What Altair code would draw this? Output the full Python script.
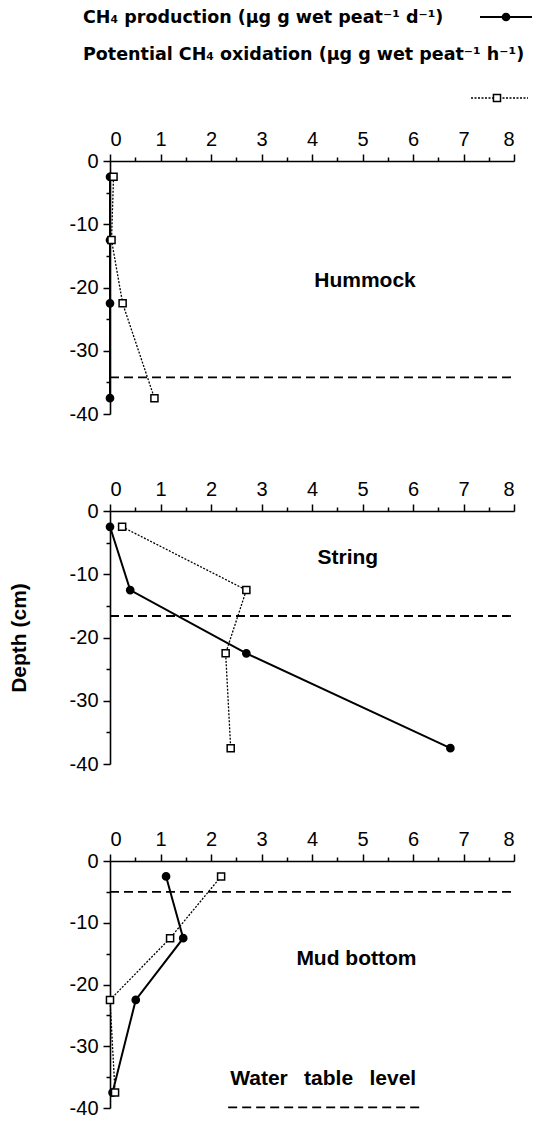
import altair as alt
import pandas as pd

# ---- data ----
sites = ["Hummock", "String", "Mud bottom"]
depths = [-2.5, -12.5, -22.5, -37.5]

hummock_production = [0.0, 0.0, 0.0, 0.0]
hummock_oxidation = [0.07, 0.03, 0.25, 0.88]
string_production = [0.0, 0.40, 2.70, 6.74]
string_oxidation = [0.24, 2.70, 2.29, 2.39]
mud_production = [1.11, 1.45, 0.51, 0.05]
mud_oxidation = [2.20, 1.19, 0.0, 0.10]

production = [hummock_production, string_production, mud_production]
oxidation = [hummock_oxidation, string_oxidation, mud_oxidation]

water_table = [-34.2, -16.6, -5.0]
site_label_x = [5.05, 4.71, 4.88]
site_label_y = [-19.0, -7.4, -15.9]

x_ticks = [0, 1, 2, 3, 4, 5, 6, 7, 8]
x_minor = [0.5, 1.5, 2.5, 3.5, 4.5, 5.5, 6.5, 7.5]
y_ticks = [-40, -30, -20, -10, 0]
y_minor = [-35, -25, -15, -5]

legend_production = "CH\u2084 production (\u03bcg g wet peat\u207b\u00b9 d\u207b\u00b9)"
legend_oxidation = "Potential CH\u2084 oxidation (\u03bcg g wet peat\u207b\u00b9 h\u207b\u00b9)"
water_label = "Water\u2002 table\u2002 level"
water_key_x = [2.34, 6.14]
water_key_y = -39.9
water_label_x = 2.38
water_label_y = -36.2

FONT = "Liberation Sans"
LEGEND_FONT = "DejaVu Sans"
W = 404
HEIGHTS = [253, 253, 247]

xs = alt.Scale(domain=[0, 8], nice=False, zero=False)
ys = alt.Scale(domain=[-40, 0], nice=False, zero=False)


def panel(i):
    df = pd.DataFrame({
        "depth": depths * 2,
        "value": production[i] + oxidation[i],
        "series": ["production"] * 4 + ["oxidation"] * 4,
    })
    base = alt.Chart(df)
    x_main = alt.X("value:Q", scale=xs, axis=alt.Axis(
        orient="top", values=x_ticks, tickSize=7, labelPadding=5, title=None))
    y_main = alt.Y("depth:Q", scale=ys, axis=alt.Axis(
        orient="left", values=y_ticks, tickSize=7, labelPadding=5,
        labelExpr="datum.value + ''",
        title="Depth (cm)" if i == 1 else None, titlePadding=40))
    x_min = alt.X("value:Q", scale=xs, axis=alt.Axis(
        orient="top", values=x_minor, tickSize=4, labels=False, domain=False, title=None))
    y_min = alt.Y("depth:Q", scale=ys, axis=alt.Axis(
        orient="left", values=y_minor, tickSize=4, labels=False, domain=False, title=None))
    x_na = alt.X("value:Q", scale=xs, axis=None)
    y_na = alt.Y("depth:Q", scale=ys, axis=None)
    order = alt.Order("depth:Q", sort="descending")

    prod = base.transform_filter(alt.datum.series == "production")
    ox = base.transform_filter(alt.datum.series == "oxidation")

    wt = alt.Chart(pd.DataFrame({"depth": [water_table[i]], "x0": [0], "x1": [8]})).mark_rule(
        color="black", strokeWidth=1.8, strokeDash=[9, 5]
    ).encode(x=alt.X("x0:Q", scale=xs, axis=None), x2="x1:Q", y=alt.Y("depth:Q", scale=ys, axis=None))

    prod_line = prod.mark_line(color="black", strokeWidth=2).encode(x=x_main, y=y_main, order=order)
    ox_line = ox.mark_line(color="black", strokeWidth=1.3, strokeDash=[2, 1.5]).encode(
        x=x_min, y=y_min, order=order)
    prod_pts = prod.mark_point(shape="circle", filled=True, fill="black", stroke="black",
                               size=45, opacity=1).encode(x=x_na, y=y_na)
    ox_pts = ox.mark_point(shape="square", filled=True, fill="white", stroke="black",
                           strokeWidth=1.5, size=50, opacity=1).encode(x=x_na, y=y_na)

    label = alt.Chart(pd.DataFrame({"x": [site_label_x[i]], "y": [site_label_y[i]], "t": [sites[i]]})).mark_text(
        font=FONT, fontSize=21, fontWeight="bold", align="center", baseline="middle", color="black"
    ).encode(x=alt.X("x:Q", scale=xs, axis=None), y=alt.Y("y:Q", scale=ys, axis=None), text="t:N")

    layers = [wt, prod_line, ox_line, prod_pts, ox_pts, label]

    if i == 0:
        one = pd.DataFrame({"a": [0]})
        lt1 = alt.Chart(one).mark_text(font=LEGEND_FONT, fontSize=17.5, fontWeight="bold", align="left",
                                       baseline="alphabetic", color="black", text=legend_production
                                       ).encode(x=alt.value(-27), y=alt.value(-138))
        lt2 = alt.Chart(one).mark_text(font=LEGEND_FONT, fontSize=17.5, fontWeight="bold", align="left",
                                       baseline="alphabetic", color="black", text=legend_oxidation
                                       ).encode(x=alt.value(-27), y=alt.value(-101))
        ls1 = alt.Chart(one).mark_rule(color="black", strokeWidth=2).encode(
            x=alt.value(370), x2=alt.value(422), y=alt.value(-144))
        lp1 = alt.Chart(one).mark_point(shape="circle", filled=True, fill="black", stroke="black",
                                        size=45, opacity=1).encode(x=alt.value(396), y=alt.value(-144))
        ls2 = alt.Chart(one).mark_rule(color="black", strokeWidth=1.3, strokeDash=[2, 1.5]).encode(
            x=alt.value(361), x2=alt.value(418), y=alt.value(-63))
        lp2 = alt.Chart(one).mark_point(shape="square", filled=True, fill="white", stroke="black",
                                        strokeWidth=1.5, size=50, opacity=1).encode(
            x=alt.value(387), y=alt.value(-63))
        layers += [lt1, lt2, ls1, lp1, ls2, lp2]

    if i == 2:
        wk = alt.Chart(pd.DataFrame({"x0": [water_key_x[0]], "x1": [water_key_x[1]], "y": [water_key_y]})).mark_rule(
            color="black", strokeWidth=1.8, strokeDash=[9, 5]
        ).encode(x=alt.X("x0:Q", scale=xs, axis=None), x2="x1:Q", y=alt.Y("y:Q", scale=ys, axis=None))
        wl = alt.Chart(pd.DataFrame({"x": [water_label_x], "y": [water_label_y], "t": [water_label]})).mark_text(
            font=FONT, fontSize=21, fontWeight="bold", align="left", baseline="alphabetic", color="black"
        ).encode(x=alt.X("x:Q", scale=xs, axis=None), y=alt.Y("y:Q", scale=ys, axis=None), text="t:N")
        layers += [wk, wl]

    return alt.layer(*layers).resolve_axis(x="independent", y="independent").properties(
        width=W, height=HEIGHTS[i])


chart = alt.vconcat(panel(0), panel(1), panel(2), spacing=97, bounds="flush").properties(
    padding={"left": 0, "top": 1, "right": 0, "bottom": 3}
).configure_view(stroke=None).configure_axis(
    grid=False, domainColor="black", tickColor="black", labelColor="black",
    labelFont=FONT, labelFontSize=20, titleFont=FONT, titleFontSize=21,
    titleFontWeight="bold", titleColor="black", domainWidth=1.6, tickWidth=1.5,
)

chart.save("out.html", embed_options={"renderer": "svg", "actions": False})
